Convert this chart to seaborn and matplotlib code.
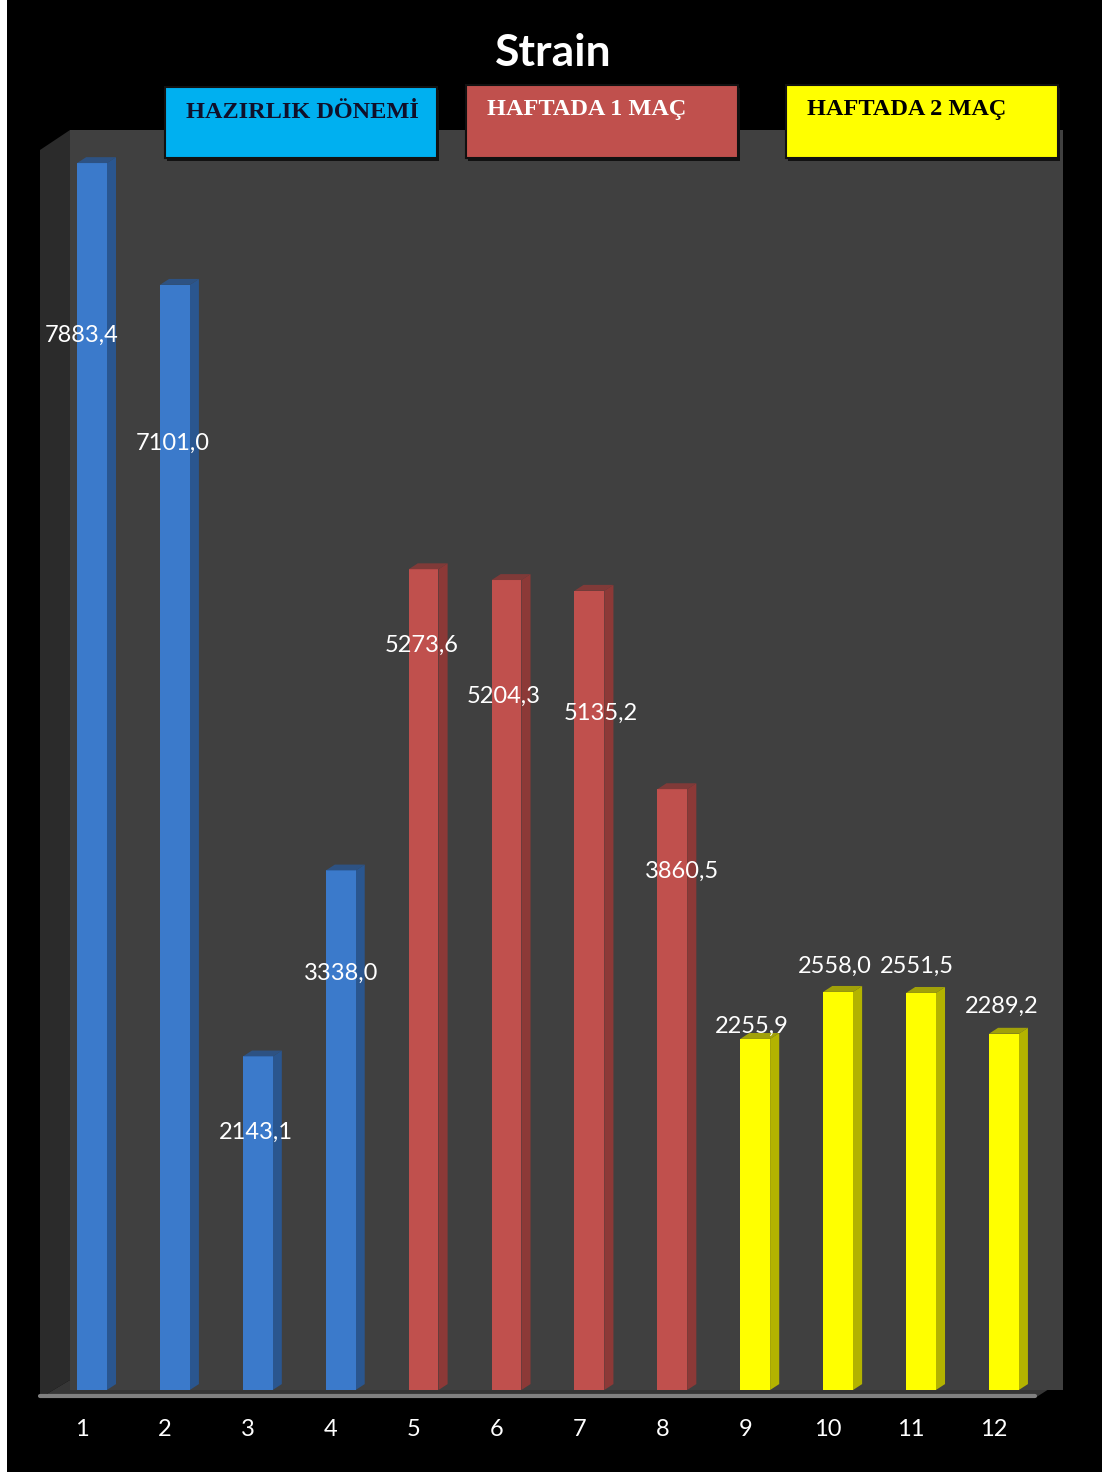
import matplotlib
matplotlib.use("Agg")
import matplotlib.pyplot as plt
import matplotlib.transforms as mtransforms
import seaborn as sns
from matplotlib.patches import Polygon, Rectangle
from matplotlib.lines import Line2D

# data
weeks = ['1', '2', '3', '4', '5', '6', '7', '8', '9', '10', '11', '12']
strain = [7883.4, 7101.0, 2143.1, 3338.0, 5273.6, 5204.3, 5135.2, 3860.5,
          2255.9, 2558.0, 2551.5, 2289.2]
phase_names = ['HAZIRLIK DÖNEMİ', 'HAFTADA 1 MAÇ', 'HAFTADA 2 MAÇ']
phase = [phase_names[0]] * 4 + [phase_names[1]] * 4 + [phase_names[2]] * 4
value_labels = [f"{v:.1f}".replace('.', ',') for v in strain]

# style
front_colors = {phase_names[0]: '#3b7acb', phase_names[1]: '#c0504d', phase_names[2]: '#ffff00'}
side_colors = {phase_names[0]: '#2a568f', phase_names[1]: '#8c3937', phase_names[2]: '#b3b300'}
box_colors = ['#00b0f0', '#c0504d', '#ffff00']
box_text_colors = ['#10102a', 'white', 'black']
# label offsets from bar top, in pixels (Excel 3D label placement)
label_offsets = [(-10, -172), (-2, -158), (-2, -76), (0, -103), (-2, -76), (-3, -116),
                 (11, -123), (10, -82), (-3, 13), (-3, 26), (-4, 27), (-2, 27)]

W, H = 1105, 1474


def fx(x):
    return x / W


def fy(y):
    return 1 - y / H


sns.set_style('dark')
plt.rcParams['font.family'] = ['Lato', 'DejaVu Sans']

fig = plt.figure(figsize=(W / 100, H / 100), dpi=100, facecolor='white')
fig.add_artist(Rectangle((fx(7), fy(1472)), 1095 / W, 1472 / H, transform=fig.transFigure,
                         facecolor='black', edgecolor='none', zorder=-5))

# side wall and floor of the 3D box
wall = [(40, 150), (70, 130), (70, 1380), (40, 1398)]
fig.add_artist(Polygon([(fx(a), fy(b)) for a, b in wall], closed=True, transform=fig.transFigure,
                       facecolor='#2b2b2b', edgecolor='none', zorder=-1))
floor = [(40, 1398), (70, 1380), (1063, 1380), (1035, 1398)]
fig.add_artist(Polygon([(fx(a), fy(b)) for a, b in floor], closed=True, transform=fig.transFigure,
                       facecolor='#363636', edgecolor='none', zorder=-1))
fig.add_artist(Line2D([fx(40), fx(1035)], [fy(1396), fy(1396)], transform=fig.transFigure,
                      color='#808080', lw=3, zorder=1))

ax = fig.add_axes([fx(70), fy(1390), 993 / W, 1260 / H])
ax.set_facecolor('#404040')

sns.barplot(x=weeks, y=strain, hue=phase, palette=front_colors, dodge=False, width=0.36,
            saturation=1, legend=False, ax=ax, zorder=3, linewidth=0)

dx, dy = 0.11, 38
for p in ax.patches:
    h = p.get_height()
    if h <= 0:
        continue
    i = int(round(p.get_x() + p.get_width() / 2))
    x0, x1 = p.get_x(), p.get_x() + p.get_width()
    sc = side_colors[phase[i]]
    ax.add_patch(Polygon([(x1, 0), (x1 + dx, dy), (x1 + dx, h + dy), (x1, h)], closed=True,
                         facecolor=sc, edgecolor='none', zorder=2.9))
    ax.add_patch(Polygon([(x0, h), (x0 + dx, h + dy), (x1 + dx, h + dy), (x1, h)], closed=True,
                         facecolor=sc, edgecolor='none', zorder=3.1, alpha=0.85))

for i, (v, lab) in enumerate(zip(strain, value_labels)):
    ax.annotate(lab, xy=(i, v), xytext=label_offsets[i], textcoords='offset pixels',
                ha='center', va='center', color='white', fontsize=17, zorder=5)

ax.set_xlim(-0.265, 11.713)
ax.set_ylim(0, 8096)
ax.set_yticks([])
ax.set_xlabel('')
ax.set_ylabel('')
ax.grid(False)
for s in ax.spines.values():
    s.set_visible(False)
ax.tick_params(axis='x', length=0, pad=21, labelcolor='white', labelsize=17)
shift = mtransforms.ScaledTranslation(-0.1, 0, fig.dpi_scale_trans)
for t in ax.get_xticklabels():
    t.set_transform(t.get_transform() + shift)

fig.text(fx(553), fy(53), 'Strain', ha='center', va='center', fontsize=32,
         fontweight='bold', color='white')

# phase legend boxes
boxes = [(165, 87, 437, 158, 112), (466, 85, 738, 158, 110), (786, 85, 1058, 158, 110)]
for (l, t, r, b, ty), name, fc, tc in zip(boxes, phase_names, box_colors, box_text_colors):
    fig.add_artist(Rectangle((fx(l) + 2 / W, fy(b) - 3 / H), (r - l) / W, (b - t) / H,
                             transform=fig.transFigure, facecolor='#111111', edgecolor='none', zorder=4))
    fig.add_artist(Rectangle((fx(l), fy(b)), (r - l) / W, (b - t) / H, transform=fig.transFigure,
                             facecolor=fc, edgecolor='#111111', lw=1.5, zorder=5))
    fig.text(fx(l + 21), fy(ty), name, ha='left', va='center', fontsize=17.5, fontweight='bold',
             family='Liberation Serif', color=tc, zorder=6)

fig.savefig('out.png', dpi=100, facecolor=fig.get_facecolor())
